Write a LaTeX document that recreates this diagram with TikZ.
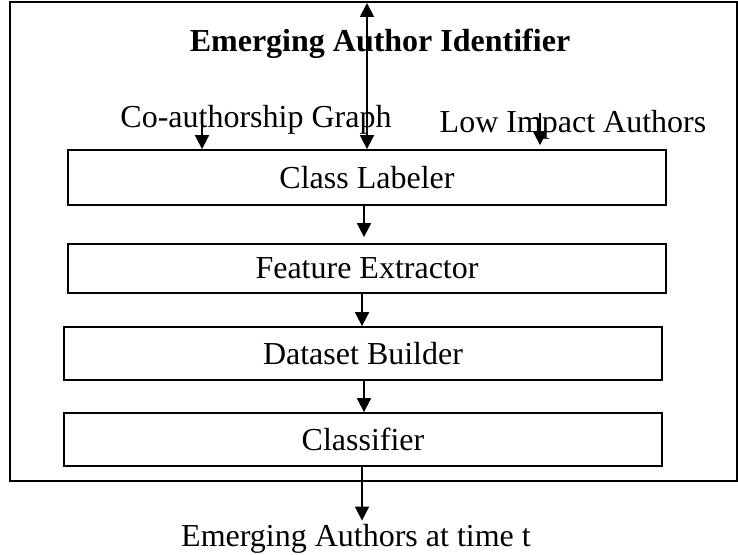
\documentclass[tikz,border=0pt]{standalone}
\usepackage{fontspec}
\setmainfont{Liberation Serif}
\usetikzlibrary{arrows.meta}

\tikzset{
  stage/.style={draw, line width=1.8pt, minimum width=598pt, inner sep=0pt,
                font=\fontsize{32}{36}\selectfont},
  lbl/.style={inner sep=0pt, anchor=base, font=\fontsize{32}{36}\selectfont},
  arr/.style={line width=1.8pt, -{Triangle[length=14pt,width=14pt]}},
}

\begin{document}
\begin{tikzpicture}[x=10pt,y=10pt]
                    \useasboundingbox (0,0) rectangle (73.8,55.4);

                    % Outer frame
                    \draw[line width=1.8pt] (1.0,7.3) rectangle (73.7,55.2);
                    \node[lbl, font=\fontsize{32}{36}\selectfont\bfseries] (title) at (38.0,50.2) {Emerging Author Identifier};

                    % Inputs
                    \node[lbl] (coauth) at (25.6,42.6) {Co-authorship Graph};
                    \node[lbl] (lowimp) at (57.3,42.1) {Low Impact Authors};

                    % Pipeline stages
                    \node[stage, minimum height=55pt] (label) at (36.7,37.65) {Class Labeler};
                    \node[stage, minimum height=49pt] (feat) at (36.7,28.55) {Feature Extractor};
                    \node[stage, minimum height=53pt] (data) at (36.3,20.05) {Dataset Builder};
                    \node[stage, minimum height=53pt] (clf) at (36.3,11.45) {Classifier};

                    % Output
                    \node[lbl] (out) at (35.6,0.8) {Emerging Authors at time t};

                    % Arrow ends
                    \coordinate (topin) at (36.7,55.1);
                    \coordinate (cain) at (20.2,43.9);
                    \coordinate (lain) at (54.0,44.1);

                    % Connectors
                    \draw[arr, {Triangle[length=14pt,width=14pt]}-{Triangle[length=14pt,width=14pt]}] (topin) -- (topin |- label.north);
                    \draw[arr] (cain) -- (cain |- label.north);
                    \draw[arr] (lain) -- ([yshift=4pt]lain |- label.north);
                    \draw[arr] (label.south -| 36.4,0) -- ([yshift=6pt]feat.north -| 36.4,0);
                    \draw[arr] (feat.south -| 36.2,0) -- (data.north -| 36.2,0);
                    \draw[arr] (data.south -| 36.4,0) -- (clf.north -| 36.4,0);
                    \draw[arr, shorten >=3pt] (clf.south -| 36.2,0) -- (out.north -| 36.2,0);
                \end{tikzpicture}
\end{document}
